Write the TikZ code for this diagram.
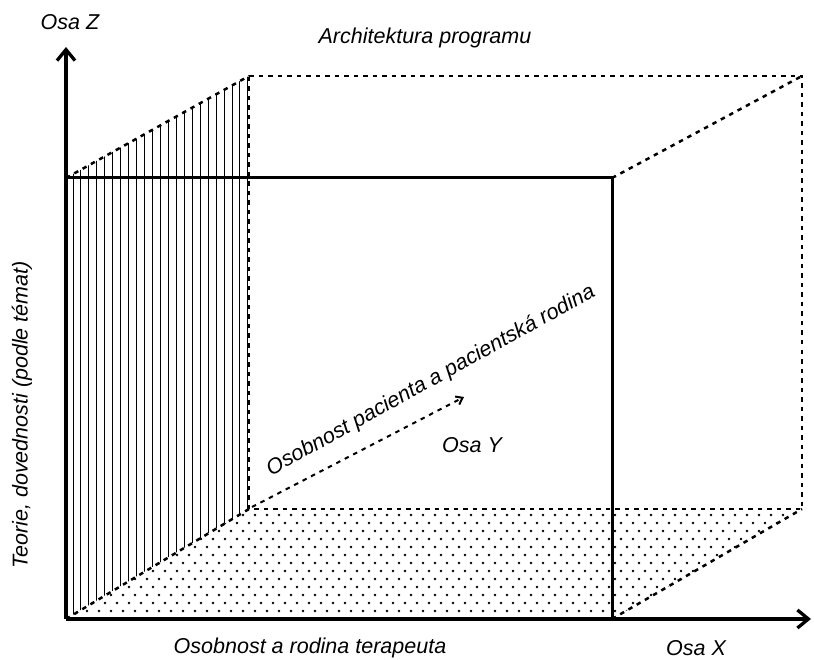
\documentclass[tikz,border=0pt]{standalone}
\usepackage{fontspec}
\setmainfont{Liberation Sans}
\usetikzlibrary{arrows.meta}
\tikzset{
  axislabel/.style={font=\itshape\fontsize{21.5}{25}\selectfont, inner sep=0pt},
  hidden edge/.style={line width=2.5pt, dash pattern=on 4.5pt off 5pt},
  front edge/.style={line width=3pt},
  axis/.style={line width=3.3pt, -{Straight Barb[length=11pt,width=18pt]}},
}
\begin{document}
\begin{tikzpicture}[x=1pt,y=-1pt]
  \useasboundingbox (0,0) rectangle (814,660);
  \coordinate (O) at (66,619);
  \coordinate (Ztop) at (66,47);
  \coordinate (Xend) at (811,619);
  \coordinate (FTL) at (66,178);
  \coordinate (FTR) at (612,178);
  \coordinate (FBR) at (612,619);
  \coordinate (BTL) at (249,76);
  \coordinate (BTR) at (802,76);
  \coordinate (BBR) at (802,509);
  \coordinate (BBL) at (249,509);
  \coordinate (Ystart) at (252,507);
  \coordinate (Yend) at (464,397);

  % dotted floor
  \begin{scope}
    \clip (O) -- (FBR) -- (BBR) -- (BBL) -- cycle;
    \foreach \r in {0,...,12}
      \foreach \c in {0,...,63}
        \fill ({63+12*\c+6*mod(\r,2)},{611-8*\r}) circle[radius=1.35];
  \end{scope}

  % hatched side
  \begin{scope}
    \clip (O) -- (FTL) -- (BTL) -- (BBL) -- cycle;
    \foreach \k in {0,...,22}
      \draw[line width=1pt] ({73+7.95*\k},60) -- ++(0,580);
  \end{scope}

  \draw[hidden edge] (BTL) -- (BTR) -- (BBR) -- (BBL) -- cycle;
  \draw[hidden edge] (FTL) -- (BTL);
  \draw[hidden edge] (FTR) -- (BTR);
  \draw[hidden edge] (FBR) -- (BBR);
  \draw[hidden edge] (O) -- (BBL);

  \draw[front edge] (FTL) -- (FTR) -- (FBR);
  \draw[axis] (O) -- (Ztop);
  \draw[axis] (O) -- (Xend);
  \draw[line width=2pt, dash pattern=on 4.5pt off 5pt,
    -{Straight Barb[length=6pt,width=9pt]}] (Ystart) -- (Yend);

  \node[axislabel] (zlabel) at (70,22) {Osa Z};
  \node[axislabel] (title) at (425,38) {Architektura programu};
  \node[axislabel, rotate=90] (zname) at (22,415) {Teorie, dovednosti (podle témat)};
  \node[axislabel] (xname) at (310,648) {Osobnost a rodina terapeuta};
  \node[axislabel] (xlabel) at (696,648) {Osa X};
  \node[axislabel] (ylabel) at (472,445) {Osa Y};
  \node[axislabel, rotate=29] (yname) at (431,381) {Osobnost pacienta a pacientská rodina};
\end{tikzpicture}
\end{document}
